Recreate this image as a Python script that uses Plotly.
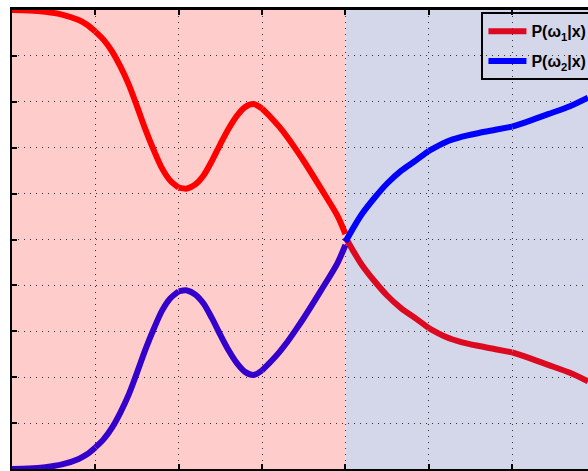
import plotly.graph_objects as go

# Segment x positions and the two posterior curves
seg_x = [
    [0.0, 0.2, 0.4, 0.6, 0.8, 0.9, 1.0],
    [1.0, 1.1, 1.2, 1.3, 1.4, 1.5, 1.6, 1.7, 1.8, 1.9, 2.0],
    [2.0, 2.1, 2.2, 2.3, 2.4, 2.5, 2.6, 2.7, 2.8, 2.9, 3.0],
    [3.0, 3.1, 3.2, 3.3, 3.4, 3.5, 3.7, 3.9, 4.0],
    [4.0, 4.1, 4.2, 4.35, 4.5, 4.67, 4.85, 5.0],
    [5.0, 5.2, 5.4, 5.6, 5.8, 6.0],
    [6.0, 6.2, 6.43, 6.7, 6.91],
]
p1_values = [
    [1.000, 0.999, 0.996, 0.990, 0.978, 0.968, 0.953],
    [0.953, 0.935, 0.910, 0.877, 0.838, 0.790, 0.740, 0.695, 0.655, 0.628, 0.613],
    [0.613, 0.611, 0.620, 0.640, 0.672, 0.708, 0.742, 0.770, 0.789, 0.795, 0.785],
    [0.785, 0.767, 0.747, 0.724, 0.698, 0.671, 0.613, 0.553, 0.512],
    [0.505, 0.473, 0.444, 0.409, 0.378, 0.350, 0.327, 0.307],
    [0.307, 0.288, 0.276, 0.268, 0.261, 0.254],
    [0.254, 0.242, 0.227, 0.209, 0.191],
]
p2_values = [
    [0.000, 0.001, 0.004, 0.010, 0.022, 0.032, 0.047],
    [0.047, 0.065, 0.090, 0.123, 0.162, 0.210, 0.260, 0.305, 0.345, 0.372, 0.387],
    [0.387, 0.389, 0.380, 0.360, 0.328, 0.292, 0.258, 0.230, 0.211, 0.205, 0.215],
    [0.215, 0.233, 0.253, 0.276, 0.302, 0.329, 0.387, 0.447, 0.488],
    [0.495, 0.527, 0.556, 0.591, 0.622, 0.650, 0.673, 0.693],
    [0.693, 0.712, 0.724, 0.732, 0.739, 0.746],
    [0.746, 0.758, 0.773, 0.791, 0.809],
]
names = ["<b>P(ω<sub>1</sub>|x)</b>", "<b>P(ω<sub>2</sub>|x)</b>"]
region_bounds = [0, 4, 7]
x_ticks = [1, 2, 3, 4, 5, 6]
y_ticks = [0.1 * i for i in range(1, 10)]

RED_L, BLUE_L = "#FF0000", "#3300CC"
RED_R, BLUE_R = "#DC0A20", "#0000FF"

fig = go.Figure()

for k, (vals, cl, cr, nm) in enumerate([(p1_values, RED_L, RED_R, names[0]),
                                        (p2_values, BLUE_L, BLUE_R, names[1])]):
    for i, (xs, ys) in enumerate(zip(seg_x, vals)):
        right = xs[0] >= 4
        fig.add_trace(go.Scatter(
            x=xs, y=ys, mode="lines",
            line=dict(color=cr if right else cl, width=6, shape="spline", smoothing=0.8),
            name=nm, legendgroup="g%d" % k, showlegend=(i == 4), hoverinfo="skip",
        ))

fig.add_shape(type="rect", xref="x", yref="y", x0=region_bounds[0], x1=region_bounds[1],
              y0=0, y1=1, fillcolor="#FFCCCC", line_width=0, layer="below")
fig.add_shape(type="rect", xref="x", yref="y", x0=region_bounds[1], x1=region_bounds[2],
              y0=0, y1=1, fillcolor="#D4D6EA", line_width=0, layer="below")

fig.update_layout(
    width=588, height=471,
    margin=dict(l=12, r=0, t=10, b=2, autoexpand=False),
    paper_bgcolor="white", plot_bgcolor="white",
    font=dict(family="Liberation Sans, Arial", size=16, color="black"),
    legend=dict(x=0.815, y=0.995, xanchor="left", yanchor="top",
                bgcolor="rgba(0,0,0,0)", bordercolor="black", borderwidth=2,
                font=dict(family="Liberation Sans, Arial", size=16, color="black"),
                tracegroupgap=6, itemwidth=38),
    showlegend=True,
)
fig.update_xaxes(range=[0, 6.91], tickvals=x_ticks, showticklabels=False,
                 ticks="inside", ticklen=5, tickwidth=2, tickcolor="black",
                 showline=True, linecolor="black", linewidth=3, mirror="ticks",
                 showgrid=True, gridcolor="#333", griddash="1px,5px", gridwidth=1,
                 zeroline=False)
fig.update_yaxes(range=[0, 1], tickvals=y_ticks, showticklabels=False,
                 ticks="inside", ticklen=5, tickwidth=2, tickcolor="black",
                 showline=True, linecolor="black", linewidth=2, mirror=False,
                 showgrid=True, gridcolor="#333", griddash="1px,5px", gridwidth=1,
                 zeroline=False)

fig.write_html("out.html", config={"displayModeBar": False},
               post_script="document.body.style.margin='0';")
